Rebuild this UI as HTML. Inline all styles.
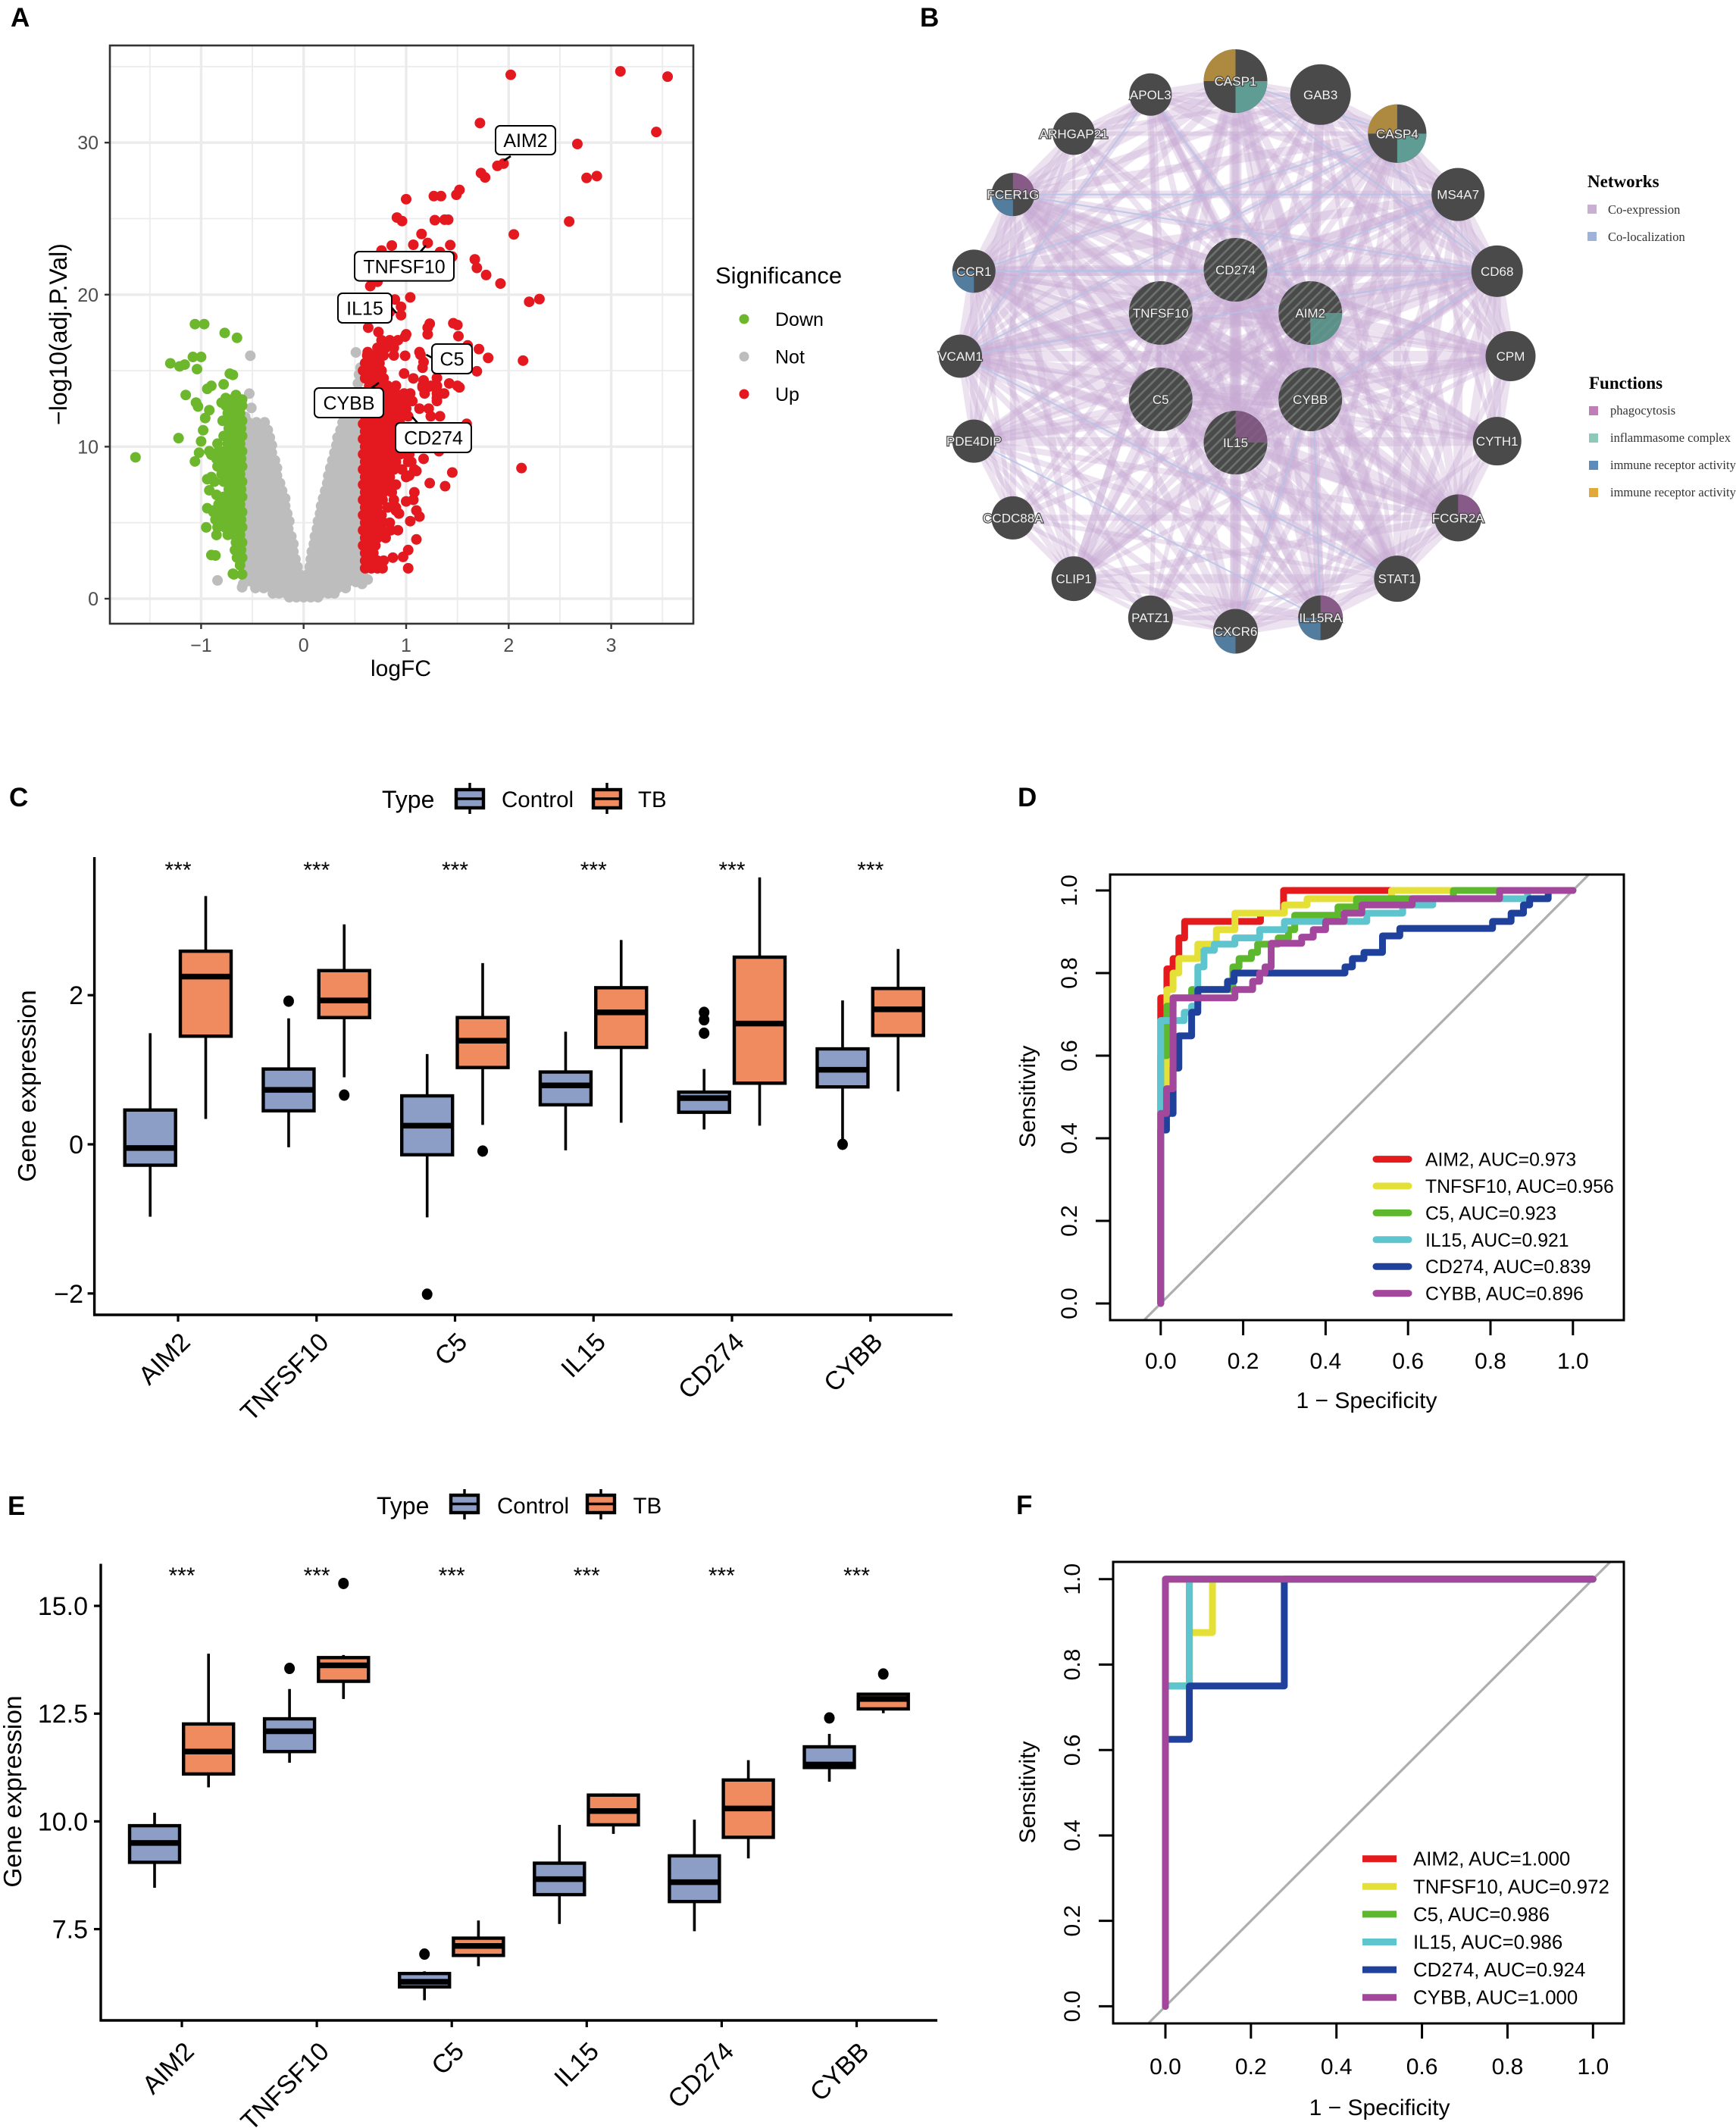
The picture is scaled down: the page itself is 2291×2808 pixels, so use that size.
<!DOCTYPE html>
<html lang="en">
<head>
<meta charset="utf-8">
<title>Multi-panel gene expression figure</title>
<style>
html,body{margin:0;padding:0;background:#fff;}
svg{display:block;}
text{font-family:"Liberation Sans",sans-serif;}
.serif{font-family:"Liberation Serif",serif;}
</style>
</head>
<body>
<svg id="fig" xmlns="http://www.w3.org/2000/svg" width="2291" height="2808" viewBox="0 0 2291 2808">
<defs>
<pattern id="hatch" width="9" height="9" patternUnits="userSpaceOnUse" patternTransform="rotate(45)">
<rect width="9" height="9" fill="#4a4a4a"/>
<rect width="2.6" height="9" fill="#6b726d"/>
</pattern>
<clipPath id="clipA"><rect x="145" y="60" width="770" height="763"/></clipPath>
<clipPath id="clipD"><rect x="1465" y="1154" width="678" height="588"/></clipPath>
<clipPath id="clipF"><rect x="1469" y="2061" width="674" height="609"/></clipPath>
</defs>
<rect width="2291" height="2808" fill="#fff"/>

<g font-weight="bold" font-size="35" fill="#000">
<text x="14" y="35">A</text>
<text x="1214" y="35">B</text>
<text x="12" y="1064">C</text>
<text x="1343" y="1064">D</text>
<text x="10" y="1999">E</text>
<text x="1341" y="1998">F</text>
</g>

<g id="panelA">
<g id="aGrid" clip-path="url(#clipA)"></g>
<g id="aPoints" clip-path="url(#clipA)"></g>
<rect x="145" y="60" width="770" height="763" fill="none" stroke="#333" stroke-width="2.6"/>
<g id="aAxes"></g>
<text x="529" y="892" font-size="30" text-anchor="middle">logFC</text>
<text transform="translate(88,441) rotate(-90)" font-size="32" text-anchor="middle">−log10(adj.P.Val)</text>
<g id="aLabels"></g>
<text x="944" y="374" font-size="31">Significance</text>
<g id="aLegend"></g>
</g>

<g id="panelB">
<g id="bEdges"></g>
<g id="bNodes"></g>
<g class="serif">
<text class="serif" x="2095" y="247" font-size="23" font-weight="bold">Networks</text>
<rect x="2095" y="270" width="12" height="12" fill="#c9afd2"/>
<text class="serif" x="2122" y="282" font-size="16.5" fill="#333">Co-expression</text>
<rect x="2095" y="306" width="12" height="12" fill="#9fb2d8"/>
<text class="serif" x="2122" y="318" font-size="16.5" fill="#333">Co-localization</text>
<text class="serif" x="2097" y="513" font-size="23" font-weight="bold">Functions</text>
<rect x="2097" y="536" width="12" height="12" fill="#bf7fb6"/>
<text class="serif" x="2125" y="547" font-size="16.5" fill="#333">phagocytosis</text>
<rect x="2097" y="572" width="12" height="12" fill="#8dc8b8"/>
<text class="serif" x="2125" y="583" font-size="16.5" fill="#333">inflammasome complex</text>
<rect x="2097" y="608" width="12" height="12" fill="#5b8db8"/>
<text class="serif" x="2125" y="619" font-size="16.5" fill="#333">immune receptor activity</text>
<rect x="2097" y="644" width="12" height="12" fill="#e0a93a"/>
<text class="serif" x="2125" y="655" font-size="16.5" fill="#333">immune receptor activity</text>
</g>
</g>

<g id="panelC">
<text x="504" y="1066" font-size="32">Type</text>
<text x="662" y="1065" font-size="29.5">Control</text>
<text x="842" y="1065" font-size="29.5">TB</text>
<g id="cLegend"></g>
<g id="cAxes"></g>
<g id="cBoxes"></g>
<text transform="translate(47,1433) rotate(-90)" font-size="33.5" text-anchor="middle">Gene expression</text>
</g>

<g id="panelD">
<g id="dDiag" clip-path="url(#clipD)"></g>
<g id="dCurves"></g>
<rect x="1465" y="1154" width="678" height="588" fill="none" stroke="#000" stroke-width="3"/>
<g id="dAxes"></g>
<g id="dLegend"></g>
<text transform="translate(1366,1447) rotate(-90)" font-size="30" text-anchor="middle">Sensitivity</text>
<text x="1803.5" y="1858" font-size="30" text-anchor="middle">1 − Specificity</text>
</g>

<g id="panelE">
<text x="497" y="1998" font-size="32">Type</text>
<text x="656" y="1997" font-size="29.5">Control</text>
<text x="835.5" y="1997" font-size="29.5">TB</text>
<g id="eLegend"></g>
<g id="eAxes"></g>
<g id="eBoxes"></g>
<text transform="translate(28,2364) rotate(-90)" font-size="33.5" text-anchor="middle">Gene expression</text>
</g>

<g id="panelF">
<g id="fDiag" clip-path="url(#clipF)"></g>
<g id="fCurves"></g>
<rect x="1469" y="2061" width="674" height="609" fill="none" stroke="#000" stroke-width="3"/>
<g id="fAxes"></g>
<g id="fLegend"></g>
<text transform="translate(1366,2365) rotate(-90)" font-size="30" text-anchor="middle">Sensitivity</text>
<text x="1820.6" y="2791" font-size="30" text-anchor="middle">1 − Specificity</text>
</g>
</svg>

<script>
/* ---------- Panel A data: volcano ---------- */
const aXTicks = [-1,0,1,2,3];
const aYTicks = [0,10,20,30];
const aXMinor = [-1.5,-0.5,0.5,1.5,2.5,3.5];
const aYMinor = [5,15,25,35];
const aSeriesNames = ['Down','Not','Up'];
/* rows: first entry is -log10(p), the rest are logFC values on that row */
const notRows = [
[11.6,-.54,-.46,-.38],[11.1,-.57,-.5,-.42,-.35],[10.6,-.55,-.47,-.39,-.33],[10.1,-.57,-.5,-.42,-.34,-.31],
[9.6,-.55,-.47,-.39,-.31],[9.1,-.57,-.5,-.42,-.34,-.28],[8.6,-.55,-.47,-.39,-.31,-.26],[8.1,-.57,-.5,-.42,-.34,-.26],
[7.6,-.55,-.47,-.39,-.31,-.23],[7.1,-.57,-.5,-.42,-.34,-.26,-.21],[6.6,-.55,-.47,-.39,-.31,-.23,-.18],[6.1,-.57,-.5,-.42,-.34,-.26,-.18],
[5.6,-.55,-.47,-.39,-.31,-.23,-.16],[5.1,-.57,-.5,-.42,-.34,-.26,-.18,-.14],[4.6,-.55,-.47,-.39,-.31,-.23,-.15],[4.1,-.57,-.5,-.42,-.34,-.26,-.18,-.12],
[3.6,-.55,-.47,-.39,-.31,-.23,-.15,-.1],[3.1,-.57,-.5,-.42,-.34,-.26,-.18,-.1],[2.6,-.55,-.47,-.39,-.31,-.23,-.15,-.08],[2.1,-.57,-.5,-.42,-.34,-.26,-.18,-.1,-.06],
[1.6,-.55,-.47,-.39,-.31,-.23,-.15,-.07,-.04],[1.1,-.57,-.5,-.42,-.34,-.26,-.18,-.1,-.03],[.7,-.47,-.39,-.31,-.23,-.15,-.07,-.01],
[.35,-.3,-.24,-.17,-.1,-.03,.03,.1,.17,.24,.3],[.1,-.14,-.07,0,.07,.14],
[11.6,.38,.45,.52],[11.1,.36,.43,.5,.57],[10.6,.33,.4,.47,.54],[10.1,.32,.38,.46,.54],
[9.6,.3,.36,.44,.52,.58],[9.1,.28,.35,.43,.51,.57],[8.6,.26,.33,.41,.49,.56],[8.1,.24,.31,.39,.47,.55],
[7.6,.23,.3,.38,.46,.54],[7.1,.21,.29,.37,.45,.53],[6.6,.19,.27,.35,.43,.51,.57],[6.1,.17,.25,.33,.41,.49,.55],
[5.6,.16,.24,.32,.4,.48,.56],[5.1,.14,.22,.3,.38,.46,.54],[4.6,.13,.21,.29,.37,.45,.53],[4.1,.11,.19,.27,.35,.43,.51,.57],
[3.6,.1,.18,.26,.34,.42,.5,.56],[3.1,.08,.16,.24,.32,.4,.48,.56],[2.6,.07,.15,.23,.31,.39,.47,.55],[2.1,.06,.14,.22,.3,.38,.46,.54],
[1.6,.04,.12,.2,.28,.36,.44,.52,.58],[1.1,.03,.11,.19,.27,.35,.43,.51],[.7,.01,.09,.17,.25,.33,.41]
];
const notExtras = [[-.84,1.2],[-.52,15.98],[-.53,13.49],[-.51,12.55],[-.57,11.96],[-.59,.97],[-.6,.75],
[.51,16.2],[.555,15.2],[.54,14.75],[.53,14.16],[.52,13.6],[.56,13],[.625,1.26],[.57,.97]];
const downRows = [
[13.4,-.66],[13.1,-.6,-.7],[12.7,-.6,-.66,-.72,-.76],[12.2,-.62,-.68,-.74],[11.7,-.6,-.65,-.71,-.79],[11.2,-.61,-.67,-.73],
[10.7,-.6,-.66,-.72,-.78],[10.2,-.62,-.68,-.74,-.84],[9.7,-.6,-.65,-.71,-.77,-.83,-.92],[9.2,-.61,-.67,-.73,-.79,-.85],[8.7,-.6,-.66,-.72,-.78,-.84],
[8.2,-.62,-.68,-.74,-.8],[7.7,-.6,-.66,-.72,-.78,-.87],[7.2,-.61,-.67,-.73],[6.7,-.6,-.65,-.71,-.78],[6.2,-.62,-.68,-.75,-.83],
[5.7,-.6,-.66,-.72,-.8,-.88],[5.2,-.61,-.67,-.73,-.79,-.86],[4.7,-.6,-.65,-.71,-.77,-.84],[4.2,-.62,-.68,-.74],[3.7,-.6,-.66],
[3.2,-.61,-.67],[2.7,-.6,-.65],[2.2,-.62],[1.6,-.6,-.68]
];
const downExtras = [[-1.64,9.3],[-1.22,10.56],[-1.3,15.48],[-1.21,15.28],[-1.16,15.4],[-1.06,18.06],[-.97,18.06],[-.77,17.48],[-.65,17.16],
[-1.08,15.9],[-1,15.9],[-1.04,15.1],[-.72,14.8],[-.69,14.72],[-.9,14],[-.94,13.8],[-.78,14.1],[-1.15,13.4],[-1.05,12.9],[-1.03,12.64],
[-.92,12.4],[-.96,11.88],[-.76,13.2],[-.8,12.9],[-.98,11.08],[-1,10.35],[-1.02,9.6],[-1.06,9.03],[-.9,9.47],[-.94,7.86],[-.9,8],
[-.92,7.13],[-.85,6.83],[-.94,5.95],[-.88,5.8],[-.95,4.69],[-.84,5.2],[-.85,4.19],[-.9,2.87],[-.86,2.84],[-.69,1.64],[-.62,2.5]];
const upRows = [
[2,.6,.66,.72,.77],[2.5,.6,.66,.72,.78],[3,.6,.68],[3.5,.58,.64,.7],[4,.6,.66,.72,.8],
[4.5,.58,.64,.7,.76,.85,.92],[5,.6,.66,.72,.78,.84],[5.5,.58,.64,.7,.76],[6,.6,.66,.72,.82,.9],[6.5,.58,.64,.7,.77,.88],
[7,.6,.66,.72,.78,.86],[7.5,.58,.64,.7,.76,.82,.9],[8,.6,.66,.72,.78,.84,1],[8.5,.58,.64,.7,.76,.82,.88,.96,1.08],[9,.6,.66,.72,.78,.84,.9,1.02,1.05],
[9.5,.58,.64,.7,.76,.82,.88,.94,1,1.03],[10,.6,.66,.72,.78,.84,.9],[10.5,.58,.64,.7,.76,.82,.88],[11,.6,.66,.72,.78,.84,.9,1.1,1.3],[11.5,.58,.64,.7,.76,.82,.88,.94],
[12,.6,.66,.72,.78,.84,.9,.96,1.02,1.24,1.33],[12.5,.58,.64,.7,.76,.82,.88,.94,1,1.13,1.22],[13,.6,.66,.72,.78,.86,.92,.98,1.06,1.3],[13.5,.62,.7,.76,.84,.9,.98,1.04,1.18,1.3,1.37],[14,.64,.7,.76,.82,.9,1.16,1.24,1.3,1.5],
[14.5,.6,.66,.72,.78],[15,.58,.64,.72,.76],[15.5,.6,.68,.74],[16,.62,.7,.78,.88],[16.5,.72,.8,.88],[17,.76,.84,.92]
];
const upExtras = [[2.02,34.46],[3.09,34.69],[3.55,34.34],[1.72,31.29],[3.44,30.7],[2.67,29.91],[1.89,28.47],[1.95,28.62],[1.73,28],[1.77,27.71],
[2.76,27.68],[2.86,27.8],[1.52,26.89],[1.49,26.57],[1,26.28],[1.27,26.48],[1.34,26.48],[.91,25.07],[.96,24.84],[1.28,24.9],[1.375,24.93],[1.41,24.93],
[2.59,24.81],[2.05,23.96],[1.15,23.99],[1.07,23.28],[1.21,23.4],[.86,23.23],[.76,22.9],[1.43,23.26],[1.33,22.8],[1.45,22.5],[1.67,22.32],[1.69,21.76],
[1.78,21.29],[1.92,20.73],[.65,20.56],[.72,20.85],[1.04,19.82],[2.2,19.53],[2.3,19.71],[.89,19.68],[.95,19.2],[.95,18.65],[.84,18.86],[1.23,18.09],[1.21,17.83],
[1.46,18.12],[1.5,18],[.63,17.83],[.73,17.54],[1,17.39],[.99,17.24],[1.21,17.39],[1.51,17.27],[1.6,16.66],[1.71,16.42],[1.13,16.22],[1.14,16.04],[.99,15.98],
[1.8,15.84],[2.14,15.66],[1.17,15.57],[1.16,15.19],[.625,16.22],[1.69,14.96],[.98,14.81],[1.07,14.49],[1.3,14.52],[1.42,14.16],[1.17,14.36],[1.16,13.9],[1.23,13.96],
[1.52,13.9],[1.33,13.5],[1.3,13.2],[1.59,11.5],[2.125,8.59],[1.45,8.3],[1.23,7.6],[1.38,7.4],[1.32,9.7],
[1.04,5.1],[1.13,5.4],[1.1,5.8],[.9,5.8],[1,6.4],[1.08,7],[1.07,6.5],[1.02,3.2],[.97,2.75],[.87,2.7],[1.02,2],[1.1,3.9],[.93,5.6],[1.1,8.4],[1.03,8.1],[1.17,9.2]];
const aGeneLabels = ['AIM2','TNFSF10','IL15','C5','CYBB','CD274'];

/* ---------- Panel B data: network ---------- */
const outerGenes = ['CASP1','GAB3','CASP4','MS4A7','CD68','CPM','CYTH1','FCGR2A','STAT1','IL15RA','CXCR6','PATZ1','CLIP1','CCDC88A','PDE4DIP','VCAM1','CCR1','FCER1G','ARHGAP21','APOL3'];
const outerScores = [42,40,38.6,35,34,33,32,31,30.5,29.5,29.5,29.5,29.5,28.5,28.5,28.5,28.5,28.5,28,28];
const innerGenes = ['CD274','AIM2','CYBB','IL15','C5','TNFSF10'];
const edgeRows = [
['CD274',[0,8,1,5,2,7,3,6,4,8,5,5,6,5,7,6,8,7,9,6,10,7,11,3,12,4,13,3,14,4,15,6,16,7,17,7,18,3,19,6,21,9,22,9,23,6,24,9,25,8]],
['TNFSF10',[0,7,1,4,2,7,3,5,4,7,5,4,6,4,7,6,8,7,9,5,10,6,11,3,12,5,13,3,14,5,15,7,16,7,17,7,18,4,19,6,22,8,23,7,24,8,25,8]],
['AIM2',[0,8,1,6,2,8,3,7,4,8,5,6,6,5,7,7,8,8,9,6,10,6,11,4,12,4,13,3,14,5,15,7,16,7,17,7,18,3,19,6,23,7,24,9,25,8]],
['C5',[0,5,1,4,2,6,3,5,4,6,5,6,6,4,7,6,8,6,9,5,10,6,12,7,13,3,14,4,15,7,16,6,17,6,19,3,24,8,25,8]],
['CYBB',[0,7,1,6,2,7,3,8,4,8,5,7,6,5,7,8,8,7,9,6,10,7,11,4,12,6,13,4,14,5,15,7,16,8,17,8,18,4,19,5,25,9]],
['IL15',[0,6,1,4,2,6,3,6,4,7,5,5,6,6,7,7,8,8,9,7,10,7,11,5,12,7,14,6,15,6,16,7,17,7,19,4]],
['CASP1',[1,3,2,6,3,5,4,6,5,4,7,5,8,6,9,4,10,4,12,5,15,5,16,6,17,6,18,4,19,5]],
['GAB3',[2,5,3,5,4,4,5,3,7,4,8,3,15,3,16,4,17,5,18,3,19,3]],
['CASP4',[3,5,4,6,5,4,6,3,7,6,8,5,9,4,10,4,12,4,15,5,16,6,17,6,18,3,19,4]],
['MS4A7',[4,6,5,5,6,4,7,6,8,5,9,3,10,4,12,4,14,3,15,5,16,6,17,5,19,5]],
['CD68',[5,6,6,5,7,6,8,5,9,4,10,4,12,4,14,4,15,6,16,6,17,6,19,5]],
['CPM',[6,5,7,5,8,4,12,3,14,7,15,7,16,4,17,4]],
['CYTH1',[7,5,8,4,10,3,15,3,16,3,17,4]],
['FCGR2A',[8,5,9,4,10,5,12,5,13,4,14,4,15,6,16,6,17,7,19,3]],
['STAT1',[9,6,10,5,11,3,12,6,13,3,14,4,15,6,16,6,17,6,19,4]],
['IL15RA',[10,6,11,3,12,5,15,4,16,4,17,4]],
['CXCR6',[11,3,12,6,13,3,14,4,15,4,16,5,17,5]],
['PATZ1',[12,3,14,3,16,3]],
['CLIP1',[13,4,14,4,15,4,16,4,17,5,18,2]],
['CCDC88A',[14,4,15,3,16,3,17,4]],
['PDE4DIP',[15,4,16,5,17,5,18,3]],
['VCAM1',[16,6,17,6,18,3,19,5]],
['CCR1',[17,6,18,4,19,5]],
['FCER1G',[18,5,19,6]],
['ARHGAP21',[19,3]]
];
const coLocalizedPairs = [['FCER1G','MS4A7'],['FCER1G','CD68'],['CCR1','CD68'],['CCR1','CD274'],['VCAM1','CD68'],['VCAM1','APOL3'],['VCAM1','CASP4'],['VCAM1','STAT1'],['APOL3','AIM2'],['CASP1','CD68'],['CXCR6','CYBB'],['CD274','CASP4'],['GAB3','CD68'],['TNFSF10','MS4A7'],['CCR1','CASP4'],['IL15RA','AIM2'],['PDE4DIP','IL15RA'],['CASP1','CASP4'],['CYBB','CD68']];
const functionGenes = ['CASP1','CASP4','FCER1G','CCR1','AIM2','IL15','FCGR2A','IL15RA','CXCR6'];
const functionSlices = [['tan','teal'],['tan','teal'],['purple','blue'],['blue'],['teal'],['purple'],['purple'],['purple','blue'],['blue']];

/* ---------- Panels C / E data: box plots [low, q1, median, q3, high] ---------- */
const boxCategories = ['AIM2','TNFSF10','C5','IL15','CD274','CYBB'];
const cYTicks = [-2,0,2];
const cControl = [[-.97,-.28,-.05,.46,1.49],[-.04,.45,.73,1.01,1.69],[-.98,-.14,.25,.65,1.21],[-.08,.53,.79,.97,1.51],[.2,.43,.62,.7,1.01],[0,.77,1,1.28,1.93]];
const cTB = [[.34,1.45,2.25,2.59,3.33],[.9,1.7,1.93,2.33,2.95],[.26,1.03,1.39,1.7,2.43],[.29,1.3,1.77,2.1,2.74],[.25,.82,1.62,2.51,3.58],[.71,1.46,1.81,2.09,2.62]];
const cControlOutliers = [[],[1.92],[-2.01],[],[1.49,1.67,1.77],[0]];
const cTBOutliers = [[],[.66],[-.09],[],[],[]];
const eYTicks = [7.5,10,12.5,15];
const eYTickLabels = ['7.5','10.0','12.5','15.0'];
const eControl = [[8.46,9.05,9.5,9.9,10.2],[11.36,11.62,12.09,12.38,13.07],[5.85,6.16,6.28,6.47,6.52],[7.62,8.3,8.66,9.03,9.92],[7.45,8.14,8.59,9.2,10.04],[10.92,11.25,11.32,11.73,12.03]];
const eTB = [[10.79,11.1,11.62,12.26,13.89],[12.84,13.25,13.62,13.8,13.86],[6.64,6.89,7.11,7.29,7.7],[9.71,9.92,10.24,10.61,10.65],[9.14,9.63,10.3,10.96,11.42],[12.51,12.61,12.84,12.95,12.95]];
const eControlOutliers = [[],[13.55],[6.92],[],[],[12.4]];
const eTBOutliers = [[],[15.52],[],[],[],[13.42]];

/* ---------- Panels D / F data: ROC curves as [FPR, TPR] steps ---------- */
const rocTicks = [0,.2,.4,.6,.8,1];
const rocTickLabels = ['0.0','0.2','0.4','0.6','0.8','1.0'];
const rocGenes = ['AIM2','TNFSF10','C5','IL15','CD274','CYBB'];
const dAuc = ['0.973','0.956','0.923','0.921','0.839','0.896'];
const dAIM2 = [[0,0],[0,.74],[.015,.74],[.015,.81],[.03,.81],[.03,.835],[.044,.835],[.044,.885],[.058,.885],[.058,.925],[.242,.925],[.242,.945],[.298,.945],[.298,1],[1,1]];
const dTNFSF10 = [[0,0],[0,.53],[.015,.53],[.015,.76],[.03,.76],[.03,.8],[.044,.8],[.044,.835],[.09,.835],[.09,.87],[.135,.87],[.135,.905],[.18,.905],[.18,.945],[.3,.945],[.3,.965],[.355,.965],[.355,.98],[.56,.98],[.56,1],[1,1]];
const dC5 = [[0,0],[0,.6],[.015,.6],[.015,.72],[.03,.72],[.03,.74],[.075,.74],[.075,.76],[.175,.76],[.175,.815],[.19,.815],[.19,.835],[.22,.835],[.22,.85],[.235,.85],[.235,.87],[.285,.87],[.285,.885],[.31,.885],[.31,.905],[.325,.905],[.325,.94],[.43,.94],[.43,.96],[.475,.96],[.475,.98],[.71,.98],[.71,1],[1,1]];
const dIL15 = [[0,0],[0,.685],[.057,.685],[.057,.705],[.075,.705],[.075,.72],[.09,.72],[.09,.815],[.105,.815],[.105,.855],[.13,.855],[.13,.87],[.18,.87],[.18,.885],[.24,.885],[.24,.905],[.3,.905],[.3,.925],[.5,.925],[.5,.945],[.587,.945],[.587,.965],[.66,.965],[.66,.98],[.89,.98],[.89,1],[1,1]];
const dCD274 = [[0,0],[0,.42],[.014,.42],[.014,.46],[.03,.46],[.03,.57],[.044,.57],[.044,.648],[.075,.648],[.075,.705],[.09,.705],[.09,.76],[.162,.76],[.162,.78],[.178,.78],[.178,.8],[.447,.8],[.447,.815],[.465,.815],[.465,.835],[.493,.835],[.493,.85],[.538,.85],[.538,.89],[.58,.89],[.58,.908],[.805,.908],[.805,.925],[.85,.925],[.85,.945],[.88,.945],[.88,.965],[.895,.965],[.895,.98],[.94,.98],[.94,1],[1,1]];
const dCYBB = [[0,0],[0,.46],[.014,.46],[.014,.52],[.03,.52],[.03,.74],[.18,.74],[.18,.76],[.223,.76],[.223,.78],[.24,.78],[.24,.8],[.253,.8],[.253,.815],[.268,.815],[.268,.872],[.342,.872],[.342,.887],[.37,.887],[.37,.905],[.4,.905],[.4,.925],[.445,.925],[.445,.945],[.488,.945],[.488,.965],[.61,.965],[.61,.98],[.822,.98],[.822,1],[1,1]];
const fAuc = ['1.000','0.972','0.986','0.986','0.924','1.000'];
const fAIM2 = [[0,0],[0,1],[1,1]];
const fTNFSF10 = [[0,0],[0,.75],[.056,.75],[.056,.875],[.11,.875],[.11,1],[1,1]];
const fC5 = [[0,0],[0,.75],[.056,.75],[.056,1],[1,1]];
const fIL15 = [[0,0],[0,.75],[.056,.75],[.056,1],[1,1]];
const fCD274 = [[0,0],[0,.625],[.056,.625],[.056,.75],[.278,.75],[.278,1],[1,1]];
const fCYBB = [[0,0],[0,1],[1,1]];

/* ---------- helpers ---------- */
const NS = 'http://www.w3.org/2000/svg';
const byId = id => document.getElementById(id);
function mk(parent, tag, attrs){
  const el = document.createElementNS(NS, tag);
  for (const k in attrs) el.setAttribute(k, attrs[k]);
  parent.appendChild(el);
  return el;
}
function tx(parent, str, attrs){
  const el = mk(parent, 'text', attrs);
  el.textContent = str;
  return el;
}

/* ---------- Panel A ---------- */
const xA = v => 400.7 + 135.3 * v;
const yA = v => 790 - 20.06 * v;
const aGrid = byId('aGrid'), aPoints = byId('aPoints'), aAxes = byId('aAxes');
aXMinor.forEach(v => {
  const el = mk(aGrid, 'line', {x1:xA(v), x2:xA(v), y1:60, y2:823, stroke:'#ececec', 'stroke-width':1.8});
  
  
});
aYMinor.forEach(v => {
  const el = mk(aGrid, 'line', {x1:145, x2:915, y1:yA(v), y2:yA(v), stroke:'#ececec', 'stroke-width':1.8});
  
  
});
aXTicks.forEach(v => {
  const el = mk(aGrid, 'line', {x1:xA(v), x2:xA(v), y1:60, y2:823, stroke:'#ebebeb', 'stroke-width':3.4});
  
  
  const t = mk(aAxes, 'line', {x1:xA(v), x2:xA(v), y1:823, y2:830, stroke:'#333', 'stroke-width':2.4});
  
  
  const l = tx(aAxes, String(v).replace('-', '−'), {x:xA(v), y:860, 'font-size':25, 'text-anchor':'middle', fill:'#4d4d4d'});
  
  
});
aYTicks.forEach(v => {
  const el = mk(aGrid, 'line', {x1:145, x2:915, y1:yA(v), y2:yA(v), stroke:'#ebebeb', 'stroke-width':3.4});
  
  
  const t = mk(aAxes, 'line', {x1:138, x2:145, y1:yA(v), y2:yA(v), stroke:'#333', 'stroke-width':2.4});
  
  
  const l = tx(aAxes, String(v), {x:130, y:yA(v)+9, 'font-size':25, 'text-anchor':'end', fill:'#4d4d4d'});
  
  
});
function plotDot(logFC, logP, color, name){
  const c = mk(aPoints, 'circle', {cx:xA(logFC), cy:yA(logP), r:7, fill:color});
  
  
}
notRows.forEach(row => row.slice(1).forEach(x => plotDot(x, row[0], '#bdbdbd', 'point-not')));
notExtras.forEach(p => plotDot(p[0], p[1], '#bdbdbd', 'point-not'));
downRows.forEach(row => row.slice(1).forEach(x => plotDot(x, row[0], '#6db72d', 'point-down')));
downExtras.forEach(p => plotDot(p[0], p[1], '#6db72d', 'point-down'));
upRows.forEach(row => row.slice(1).forEach(x => plotDot(x, row[0], '#e4191f', 'point-up')));
upExtras.forEach(p => plotDot(p[0], p[1], '#e4191f', 'point-up'));

/* gene callouts: box corners in page pixels, connector in page pixels */
const aLabels = byId('aLabels');
const labelBoxes = [[654,166,79,38],[468,332,131,38.6],[446,387,71,39],[570,454,53,39],[415,512,91,39],[522,558,100,39]];
const labelLeads = [[674,206,665,212],[562,324,555,332],[517,406,523,413],[570,472,562.5,468],[500,505,489,513],[551,558,544,550]];
aGeneLabels.forEach((g, i) => {
  const b = labelBoxes[i], s = labelLeads[i];
  const ln = mk(aLabels, 'line', {x1:s[0], y1:s[1], x2:s[2], y2:s[3], stroke:'#000', 'stroke-width':2.6});
  
  
  const r = mk(aLabels, 'rect', {x:b[0], y:b[1], width:b[2], height:b[3], rx:6, fill:'#fff', stroke:'#000', 'stroke-width':2});
  
  
  const t = tx(aLabels, g, {x:b[0]+b[2]/2, y:b[1]+b[3]/2+9, 'font-size':25, 'text-anchor':'middle'});
  
  
});
const aLegend = byId('aLegend');
const legendColors = ['#6db72d','#bdbdbd','#e4191f'];
aSeriesNames.forEach((n, i) => {
  const cy = 421 + i * 49.5;
  const c = mk(aLegend, 'circle', {cx:982, cy:cy, r:6.5, fill:legendColors[i]});
  
  
  const t = tx(aLegend, n, {x:1023, y:cy+9, 'font-size':25});
  
  
});

/* ---------- Panel B ---------- */
const netCx = 1630.5, netCy = 470, netR = 363, hexR = 114;
const netPos = {};
const netOrder = [];
outerGenes.forEach((g, i) => {
  const a = i * Math.PI / 10;
  netPos[g] = {x:netCx + netR * Math.sin(a), y:netCy - netR * Math.cos(a), r:outerScores[i]};
  netOrder.push(g);
});
innerGenes.forEach((g, i) => {
  const a = i * Math.PI / 3;
  netPos[g] = {x:netCx + hexR * Math.sin(a), y:netCy - hexR * Math.cos(a), r:42, inner:true};
});
['CD274','TNFSF10','AIM2','C5','CYBB','IL15'].forEach(g => netOrder.push(g));
const bEdges = byId('bEdges'), bNodes = byId('bNodes');
edgeRows.forEach(row => {
  const a = netPos[row[0]], list = row[1];
  for (let k = 0; k < list.length; k += 2) {
    const b = netPos[netOrder[list[k]]];
    const ln = mk(bEdges, 'line', {x1:a.x, y1:a.y, x2:b.x, y2:b.y, stroke:'#c6a9d2', 'stroke-opacity':.34, 'stroke-width':list[k+1]*2});
    
    
  }
});
coLocalizedPairs.forEach(p => {
  const a = netPos[p[0]], b = netPos[p[1]];
  const ln = mk(bEdges, 'line', {x1:a.x, y1:a.y, x2:b.x, y2:b.y, stroke:'#b3c3e6', 'stroke-opacity':.8, 'stroke-width':2});
  
  
});
const sliceColors = {tan:'#ad8a3f', teal:'#5f9c94', purple:'#875a88', blue:'#527d9f'};
const sliceQuadrant = {purple:0, teal:1, blue:2, tan:3};
function wedge(p, q){
  const a0 = q * Math.PI / 2, a1 = (q + 1) * Math.PI / 2;
  const x0 = p.x + p.r * Math.sin(a0), y0 = p.y - p.r * Math.cos(a0);
  const x1 = p.x + p.r * Math.sin(a1), y1 = p.y - p.r * Math.cos(a1);
  return 'M' + p.x + ' ' + p.y + 'L' + x0 + ' ' + y0 + 'A' + p.r + ' ' + p.r + ' 0 0 1 ' + x1 + ' ' + y1 + 'Z';
}
Object.keys(netPos).forEach(g => {
  const p = netPos[g];
  const grp = mk(bNodes, 'g', {});
  
  
  const c = mk(grp, 'circle', {cx:p.x, cy:p.y, r:p.r, fill:p.inner ? 'url(#hatch)' : '#4a4a4a'});
  
  
  const fi = functionGenes.indexOf(g);
  if (fi >= 0) functionSlices[fi].forEach(s => {
    const w = mk(grp, 'path', {d:wedge(p, sliceQuadrant[s]), fill:sliceColors[s], 'fill-opacity':p.inner ? .85 : 1});
    
    
  });
  const t = tx(grp, g, {x:p.x, y:p.y+6, 'font-size':17, 'text-anchor':'middle', fill:'#f2f2f2', stroke:'#474747', 'stroke-width':2.4, 'paint-order':'stroke'});
  
  
});

/* ---------- Box plots ---------- */
const boxFillControl = '#8d9ec6', boxFillTB = '#f08b5f';
function drawBoxes(group, stats, outliers, xPos, yFn, half, fill, seriesName){
  stats.forEach((s, i) => {
    const x = xPos(i) , g = mk(group, 'g', {});
    
    
    const w = mk(g, 'line', {x1:x, x2:x, y1:yFn(s[0]), y2:yFn(s[4]), stroke:'#000', 'stroke-width':3.6});
    
    
    const r = mk(g, 'rect', {x:x-half, width:half*2, y:yFn(s[3]), height:yFn(s[1])-yFn(s[3]), fill:fill, stroke:'#000', 'stroke-width':4.4});
    
    
    const m = mk(g, 'line', {x1:x-half, x2:x+half, y1:yFn(s[2]), y2:yFn(s[2]), stroke:'#000', 'stroke-width':7.5});
    
    
    outliers[i].forEach(v => {
      const o = mk(g, 'ellipse', {cx:x, cy:yFn(v), rx:7, ry:7.5, fill:'#000'});
      
      
    });
  });
}
function boxAxes(group, xTick, yFn, yTicks, yLabels, box, tickLabelRight, labelDy, starBase){
  const v = mk(group, 'line', {x1:box.l, x2:box.l, y1:box.t, y2:box.b+1.5, stroke:'#000', 'stroke-width':3.4});
  
  
  const h = mk(group, 'line', {x1:box.l-1.5, x2:box.r, y1:box.b, y2:box.b, stroke:'#000', 'stroke-width':3.4});
  
  
  yTicks.forEach((val, i) => {
    const t = mk(group, 'line', {x1:box.l-9, x2:box.l, y1:yFn(val), y2:yFn(val), stroke:'#000', 'stroke-width':3.2});
    
    
    const l = tx(group, yLabels[i], {x:tickLabelRight, y:yFn(val)+12, 'font-size':34, 'text-anchor':'end'});
    
    
  });
  boxCategories.forEach((c, i) => {
    const x = xTick(i);
    const t = mk(group, 'line', {x1:x, x2:x, y1:box.b, y2:box.b+9, stroke:'#000', 'stroke-width':3.2});
    
    
    const l = tx(group, c, {'font-size':34, 'text-anchor':'end', transform:'translate(' + (x+18) + ',' + (box.b+labelDy) + ') rotate(-45)'});
    
    
    const s = tx(group, '***', {x:x, y:starBase, 'font-size':30, 'text-anchor':'middle'});
    
    
  });
}
function boxKey(group, x, top, bottom, whiskTop, whiskBottom, fill){
  const w = mk(group, 'line', {x1:x+20, x2:x+20, y1:whiskTop, y2:whiskBottom, stroke:'#000', 'stroke-width':3.4});
  
  
  const r = mk(group, 'rect', {x:x+2, y:top+2, width:36, height:bottom-top-4, fill:fill, stroke:'#000', 'stroke-width':4.4});
  
  
  const m = mk(group, 'line', {x1:x+2, x2:x+38, y1:(top+bottom)/2, y2:(top+bottom)/2, stroke:'#000', 'stroke-width':3.6});
  
  
}
const xCTick = i => 235 + 182.75 * i;
const yC = v => 1510 - 98.4 * v;
boxAxes(byId('cAxes'), xCTick, yC, cYTicks, cYTicks.map(v => String(v).replace('-', '−')), {l:124.6, r:1257, t:1131, b:1735}, 110, 38, 1158);
drawBoxes(byId('cBoxes'), cControl, cControlOutliers, i => xCTick(i)-36.8, yC, 33.5, boxFillControl, 'control');
drawBoxes(byId('cBoxes'), cTB, cTBOutliers, i => xCTick(i)+36.5, yC, 33.5, boxFillTB, 'tb');
boxKey(byId('cLegend'), 600, 1040, 1068, 1033, 1074, boxFillControl);
boxKey(byId('cLegend'), 781, 1040, 1068, 1033, 1074, boxFillTB);

const xETick = i => 240 + 178.1 * i;
const yE = v => 2403.4 - (v - 10) * 56.87;
boxAxes(byId('eAxes'), xETick, yE, eYTicks, eYTickLabels, {l:133, r:1237, t:2063.5, b:2666}, 116, 43, 2089);
drawBoxes(byId('eBoxes'), eControl, eControlOutliers, i => xETick(i)-36, yE, 33, boxFillControl, 'control');
drawBoxes(byId('eBoxes'), eTB, eTBOutliers, i => xETick(i)+35.2, yE, 33, boxFillTB, 'tb');
boxKey(byId('eLegend'), 593, 1971, 1998, 1965, 2005, boxFillControl);
boxKey(byId('eLegend'), 773, 1971, 1998, 1965, 2005, boxFillTB);

/* ---------- ROC panels ---------- */
const rocColors = ['#e41a1c','#e4e037','#5eb82e','#5ec5cf','#1f409b','#a2479c'];
function drawRoc(curves, aucs, xFn, yFn, ids, frame, tickY, tickLabelX, xLabelY, legend){
  const diag = mk(byId(ids.diag), 'line', {x1:xFn(-.2), y1:yFn(-.2), x2:xFn(1.2), y2:yFn(1.2), stroke:'#aeaeae', 'stroke-width':3.2});
  
  
  curves.forEach((pts, i) => {
    const pl = mk(byId(ids.curves), 'polyline', {points:pts.map(p => xFn(p[0]) + ',' + yFn(p[1])).join(' '), fill:'none', stroke:rocColors[i], 'stroke-width':9, 'stroke-linecap':'round', 'stroke-linejoin':'round'});
    
    
  });
  const ax = byId(ids.axes);
  rocTicks.forEach((v, i) => {
    const t = mk(ax, 'line', {x1:xFn(v), x2:xFn(v), y1:frame.b, y2:frame.b+20, stroke:'#000', 'stroke-width':3});
    
    
    const t2 = mk(ax, 'line', {x1:frame.l-19, x2:frame.l, y1:yFn(v), y2:yFn(v), stroke:'#000', 'stroke-width':3});
    
    
    const l = tx(ax, rocTickLabels[i], {x:xFn(v), y:tickY, 'font-size':30, 'text-anchor':'middle'});
    
    
    const l2 = tx(ax, rocTickLabels[i], {'font-size':30, 'text-anchor':'middle', transform:'translate(' + tickLabelX + ',' + yFn(v) + ') rotate(-90)'});
    
    
  });
  const lg = byId(ids.legend);
  rocGenes.forEach((g, i) => {
    const y = legend.y0 + legend.dy * i;
    const k = mk(lg, 'line', {x1:legend.x1, x2:legend.x2, y1:y, y2:y, stroke:rocColors[i], 'stroke-width':legend.kw, 'stroke-linecap':legend.cap});
    
    
    const t = tx(lg, g + ', AUC=' + aucs[i], {x:legend.tx, y:y+9, 'font-size':legend.fs});
    
    
  });
}
const xD = v => 1531.8 + 544 * v;
const yD = v => 1720 - 545 * v;
drawRoc([dAIM2,dTNFSF10,dC5,dIL15,dCD274,dCYBB], dAuc, xD, yD, {diag:'dDiag',curves:'dCurves',axes:'dAxes',legend:'dLegend'}, {l:1465,b:1742}, 1806, 1421, 1858, {x1:1816,x2:1859,y0:1529.6,dy:35.4,tx:1881,fs:24.8,cap:'round',kw:9});
const xF = v => 1538 + 564.3 * v;
const yF = v => 2647.4 - 563.6 * v;
drawRoc([fAIM2,fTNFSF10,fC5,fIL15,fCD274,fCYBB], fAuc, xF, yF, {diag:'fDiag',curves:'fCurves',axes:'fAxes',legend:'fLegend'}, {l:1469,b:2670}, 2737, 1425, 2791, {x1:1798,x2:1843,y0:2452.7,dy:36.6,tx:1865,fs:25.8,cap:'butt',kw:9});
</script>
</body>
</html>
